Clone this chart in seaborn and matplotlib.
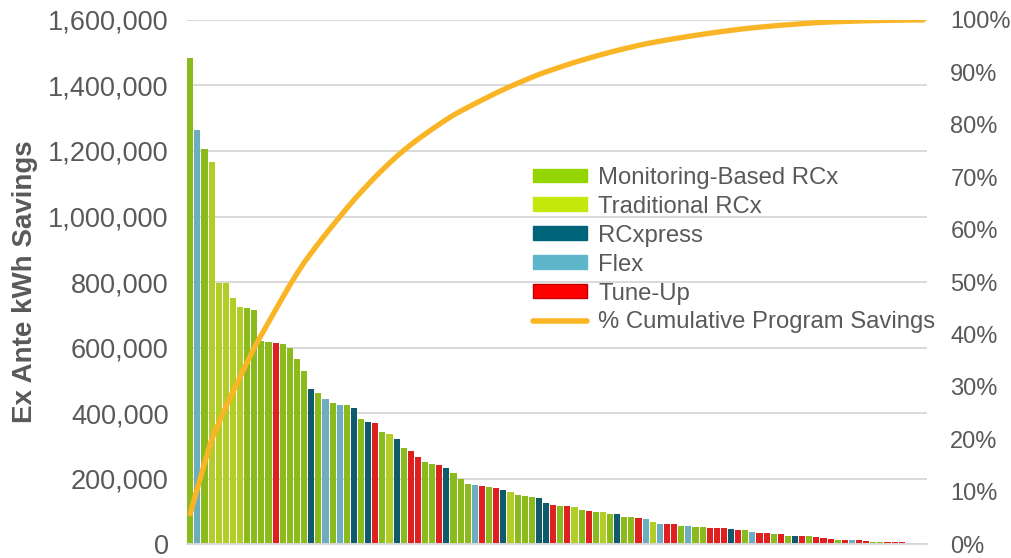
import numpy as np
import pandas as pd
import matplotlib
matplotlib.use('Agg')
import matplotlib.pyplot as plt
import seaborn as sns
from matplotlib.patches import Patch
from matplotlib.lines import Line2D
from matplotlib.ticker import FuncFormatter

# data (kWh, in thousands), one bar per project, sorted
savings_k = [1485, 1263, 1207, 1167, 798, 797, 750, 724, 720, 714,
             620, 616, 615, 612, 600, 566, 529, 473, 462, 444,
             432, 426, 423, 414, 381, 374, 371, 341, 336, 321,
             293, 283, 267, 249, 245, 241, 231, 216, 198, 182,
             181, 178, 174, 172, 165, 159, 150, 148, 144, 141,
             126, 119, 117, 116, 113, 103, 102, 99, 97, 93,
             91, 84, 82, 80, 76, 66, 62.5, 62, 60, 56.5,
             56, 53.5, 52.5, 50.5, 49.5, 48, 44.5, 44, 41.5, 35.5,
             34.5, 33, 31.5, 31, 25.5, 25.5, 25, 23.5, 23, 19.5,
             16.5, 13, 13, 11, 11, 10, 7, 7, 7.5, 6,
             5, 4.5, 3, 0.5]

# M = Monitoring-Based RCx, T = Traditional RCx, X = RCxpress, F = Flex, U = Tune-Up
program_codes = ("M F M T T T T T M M "
                 "M M U M M M M X M F "
                 "M F M X M X U M T X "
                 "M U U M M U X M M M "
                 "F U M U X T M M M X "
                 "X U M U T M U M T M "
                 "X M M U F T F U U M "
                 "F M M U U U X U M F "
                 "U U M U M X U M U U "
                 "U M U F U U M M U U "
                 "U U U U").split()

programs = ['Monitoring-Based RCx', 'Traditional RCx', 'RCxpress', 'Flex', 'Tune-Up']
codes = ['M', 'T', 'X', 'F', 'U']
colors = ['#94D500', '#C5E80C', '#00647A', '#5EB6CB', '#FF0000']
line_color = '#FAB526'
text_color = '#595959'

df = pd.DataFrame({'project': np.arange(len(savings_k)),
                   'kwh': np.array(savings_k) * 1000,
                   'program': [programs[codes.index(c)] for c in program_codes]})
df['cum_pct'] = df['kwh'].cumsum() / df['kwh'].sum() * 100

sns.set_style('white')
plt.rcParams['font.family'] = ['Liberation Sans', 'DejaVu Sans']

fig = plt.figure(figsize = (10.11, 5.58), dpi = 100)
ax = fig.add_axes([0.1847, 0.025, 0.9166 - 0.1847, 0.9642 - 0.025])

sns.barplot(data = df, x = 'project', y = 'kwh', hue = 'program', hue_order = programs,
            palette = colors, dodge = False, width = 0.86, legend = False, ax = ax,
            linewidth = 0, edgecolor = 'none')

# Tune-Up bars have a dark red outline
for p in ax.patches:
    fc = p.get_facecolor()
    if fc[0] > 0.9 and fc[1] < 0.1 and fc[2] < 0.1:
        p.set_edgecolor('#C00000')
        p.set_linewidth(1.0)

ax.set_xlim(-0.5, len(df) - 0.5)
ax.set_ylim(0, 1600000)
ax.set_yticks(np.arange(0, 1600001, 200000))
ax.yaxis.set_major_formatter(FuncFormatter(lambda v, pos: '{:,.0f}'.format(v)))
ax.set_xticks([])
ax.set_xlabel('')
ax.set_ylabel('Ex Ante kWh Savings', fontsize = 20, fontweight = 'bold', color = text_color, labelpad = 7)
ax.tick_params(axis = 'y', labelsize = 19.5, colors = text_color, length = 0, pad = 13)
ax.yaxis.grid(True, color = '#D9D9D9', linewidth = 1.4)
ax.set_axisbelow(True)
for s in ['top', 'left', 'right']:
    ax.spines[s].set_visible(False)
ax.spines['bottom'].set_color('#D9D9D9')
ax.spines['bottom'].set_linewidth(1.4)

ax2 = ax.twinx()
sns.lineplot(x = df['project'], y = df['cum_pct'], color = line_color, linewidth = 3.8, ax = ax2)
ax2.set_ylim(0, 100)
ax2.set_yticks(np.arange(0, 101, 10))
ax2.yaxis.set_major_formatter(FuncFormatter(lambda v, pos: '{:.0f}%'.format(v)))
ax2.tick_params(axis = 'y', labelsize = 17, colors = text_color, length = 0, pad = 17)
ax2.set_ylabel('')
for s in ax2.spines.values():
    s.set_visible(False)

handles = [Patch(facecolor = c, edgecolor = ('#C00000' if n == 'Tune-Up' else c)) for n, c in zip(programs, colors)]
handles.append(Line2D([0], [0], color = line_color, linewidth = 4))
labels = programs + ['% Cumulative Program Savings']
leg = ax2.legend(handles, labels, loc = 'upper left', bbox_to_anchor = (0.527, 0.701),
                 bbox_transform = fig.transFigure, frameon = False, fontsize = 17.2,
                 handlelength = 2.25, handleheight = 0.5, handletextpad = 0.5,
                 labelspacing = 0.29, borderpad = 0, borderaxespad = 0)
for t in leg.get_texts():
    t.set_color(text_color)

fig.savefig('out.png', dpi = 100)
